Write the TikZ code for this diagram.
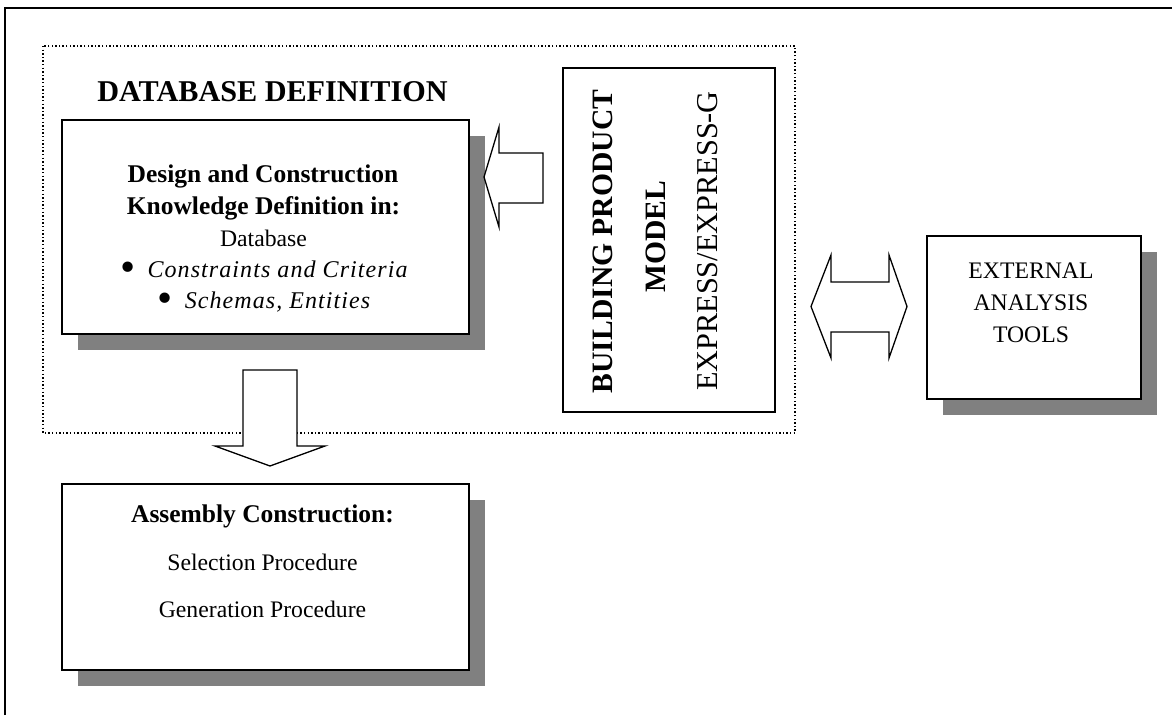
\documentclass[tikz,border=0pt]{standalone}
\usepackage{fontspec}
\setmainfont{Liberation Serif}
\newfontfamily\spacedserif{Liberation Serif}[LetterSpace=4.5]
\usetikzlibrary{shadows}

% large list bullet
\newcommand{\bigbullet}{\raisebox{-0.2em}{\scalebox{1.8}{\upshape\textbullet}}}

\tikzset{
  box/.style={draw, line width=2pt, fill=white, inner sep=0pt},
  shadowbox/.style={box, drop shadow={shadow xshift=15.5pt, shadow yshift=-15.5pt, fill=black!50, opacity=1}},
  blockarrow/.style={draw, line width=1.3pt, fill=white, line join=miter},
  txt/.style={anchor=base, inner sep=0pt},
  boldtxt/.style={txt, font=\fontsize{25.5}{30}\selectfont\bfseries},
  regtxt/.style={txt, font=\fontsize{23.7}{28}\selectfont},
  ittxt/.style={txt, font=\fontsize{24}{28}\selectfont\spacedserif\itshape},
  vtxt/.style={txt, rotate=90},
}

\begin{document}
\begin{tikzpicture}[x=1pt, y=-1pt]
  \useasboundingbox (0,0) rectangle (1172,715);

  % outer frame (top and left edges)
  \draw[line width=2pt] (5,715) -- (5,7.5) -- (1172,7.5);

  % dotted group around the database definition
  \draw[line width=1.3pt, dash pattern=on 1.4pt off 2.2pt] (43,46) rectangle (795,433);

  \node[txt, font=\fontsize{30.2}{34}\selectfont\bfseries] (title) at (272.5,101.5) {DATABASE DEFINITION};

  % database definition box
  \node[shadowbox, minimum width=407pt, minimum height=214pt] (db) at (265.5,227) {};
  \node[boldtxt] (db1) at (263,182) {Design and Construction};
  \node[boldtxt] (db2) at (263.5,214) {Knowledge Definition in:};
  \node[regtxt]  (db3) at (263.5,246) {Database};
  \node[ittxt]   (db4) at (264,277) {\bigbullet\hspace{12pt}Constraints and Criteria};
  \node[ittxt]   (db5) at (264,308) {\bigbullet\hspace{12pt}Schemas, Entities};

  % building product model box
  \node[box, minimum width=212pt, minimum height=344pt] (bpm) at (669,240) {};
  \node[vtxt, font=\fontsize{29.6}{34}\selectfont\bfseries] (bpm1) at (612,241.5) {BUILDING PRODUCT};
  \node[vtxt, font=\fontsize{29.6}{34}\selectfont\bfseries] (bpm2) at (665,237) {MODEL};
  \node[vtxt, font=\fontsize{30.3}{34}\selectfont] (bpm3) at (717,241) {EXPRESS/EXPRESS-G};

  % external analysis tools box
  \node[shadowbox, minimum width=214pt, minimum height=163pt] (ext) at (1034,317.5) {};
  \node[regtxt] (ext1) at (1031,278) {EXTERNAL};
  \node[regtxt] (ext2) at (1031,310) {ANALYSIS};
  \node[regtxt] (ext3) at (1031,342) {TOOLS};

  % assembly construction box
  \node[shadowbox, minimum width=407pt, minimum height=186pt] (asm) at (265.5,577) {};
  \node[boldtxt] (asm1) at (262.5,522) {Assembly Construction:};
  \node[regtxt]  (asm2) at (262.5,570) {Selection Procedure};
  \node[regtxt]  (asm3) at (262.5,617) {Generation Procedure};

  % block arrow: product model -> database definition
  \draw[blockarrow] (543,153) -- (499,153) -- (499,127) -- (484,177)
        -- (499,227) -- (499,203) -- (543,203) -- cycle;

  % block arrow: database definition -> assembly construction
  \draw[blockarrow] (243,370) -- (297,370) -- (297,446) -- (325,446)
        -- (270,466) -- (215,446) -- (243,446) -- cycle;

  % double block arrow: product model <-> external tools
  \draw[blockarrow] (811,306.5) -- (831,255) -- (831,282) -- (889,282)
        -- (889,255) -- (907,306.5) -- (889,358) -- (889,332)
        -- (831,332) -- (831,358) -- cycle;
\end{tikzpicture}
\end{document}
